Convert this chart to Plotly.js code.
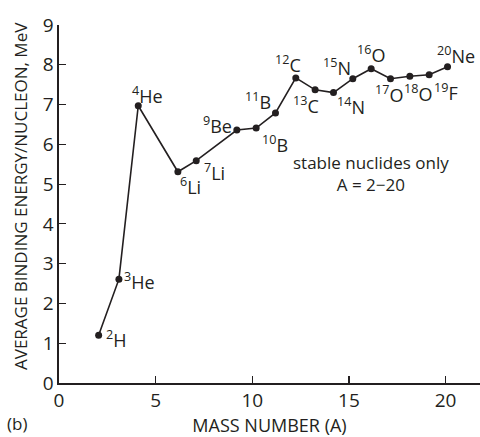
<!DOCTYPE html>
<html>
<head>
<meta charset="utf-8">
<script src="https://cdn.plot.ly/plotly-3.0.1.min.js"></script>
<style>
  html, body { margin: 0; padding: 0; background: #fff; }
  #chart { width: 480px; height: 437px; }
</style>
</head>
<body>
<div id="chart"></div>
<script>
// ---- data ----
const massNumber = [2.05, 3.1, 4.1, 6.15, 7.1, 9.2, 10.2, 11.2, 12.25, 13.25, 14.2, 15.2, 16.15, 17.15, 18.15, 19.15, 20.1];
const bindingEnergy = [1.20, 2.61, 6.97, 5.31, 5.59, 6.36, 6.41, 6.79, 7.67, 7.37, 7.30, 7.65, 7.90, 7.65, 7.71, 7.75, 7.95];
const massLabel = ['2', '3', '4', '6', '7', '9', '10', '11', '12', '13', '14', '15', '16', '17', '18', '19', '20'];
const element = ['H', 'He', 'He', 'Li', 'Li', 'Be', 'B', 'B', 'C', 'C', 'N', 'N', 'O', 'O', 'O', 'F', 'Ne'];
const yTicks = [0, 1, 2, 3, 4, 5, 6, 7, 8, 9];
const xTicks = [0, 5, 10, 15, 20];

// ---- label placement (pixels relative to each point) ----
const labelShiftX = [17, 21, 9, 13, 18, -19, 19, -17, -8, -9, 18, -16, 0, -2, 8, 17, 8];
const labelShiftY = [-4, -2, 11, -14, -11, 5, -16, 12, 14, -15, -13, 12, 15, -15, -17, -17, 12];

const FONT = '"Open Sans", "DejaVu Sans", sans-serif';
const INK = '#231f20';

const annotations = massNumber.map((x, i) => ({
  x: x, y: bindingEnergy[i], xref: 'x', yref: 'y',
  text: '<sup>' + massLabel[i] + '</sup>' + element[i],
  showarrow: false, xshift: labelShiftX[i], yshift: labelShiftY[i],
  font: { family: FONT, size: 18, color: INK }
}));

annotations.push({
  xref: 'paper', yref: 'paper', x: 0.74, y: 0.585, xanchor: 'center', yanchor: 'middle',
  text: 'stable nuclides only<br>A = 2\u221220', showarrow: false, align: 'center',
  font: { family: FONT, size: 17, color: INK }
});
annotations.push({
  xref: 'paper', yref: 'paper', x: -0.128, y: -0.112, xanchor: 'left', yanchor: 'middle',
  text: '(b)', showarrow: false,
  font: { family: FONT, size: 17, color: INK }
});
annotations.push({
  xref: 'paper', yref: 'paper', x: -0.093, y: 0.522, xanchor: 'center', yanchor: 'middle',
  text: 'AVERAGE BINDING ENERGY/NUCLEON, MeV', textangle: -90, showarrow: false,
  font: { family: FONT, size: 17, color: INK }
});

const trace = {
  x: massNumber, y: bindingEnergy, mode: 'lines+markers', type: 'scatter',
  line: { color: INK, width: 1.6 },
  marker: { color: INK, size: 7 },
  hoverinfo: 'x+y', showlegend: false
};

const layout = {
  width: 480, height: 437,
  margin: { l: 59, r: 0, t: 25, b: 54 },
  paper_bgcolor: '#fff', plot_bgcolor: '#fff',
  font: { family: FONT, color: INK },
  showlegend: false,
  xaxis: {
    range: [0, 21.78], tickmode: 'array', tickvals: xTicks,
    ticks: 'inside', ticklen: 7, tickwidth: 1.2, tickcolor: INK,
    showline: true, linecolor: INK, linewidth: 1.6, showgrid: false, zeroline: false,
    tickfont: { family: FONT, size: 19, color: INK },
    title: { text: 'MASS NUMBER (A)', font: { family: FONT, size: 18, color: INK }, standoff: 6 }
  },
  yaxis: {
    range: [0, 9], tickmode: 'array', tickvals: yTicks,
    ticks: 'inside', ticklen: 7, tickwidth: 1.2, tickcolor: INK,
    showline: true, linecolor: INK, linewidth: 1.6, showgrid: false, zeroline: false,
    tickfont: { family: FONT, size: 19, color: INK }
  },
  annotations: annotations
};

Plotly.newPlot('chart', [trace], layout, { staticPlot: true, displayModeBar: false });
</script>
</body>
</html>
